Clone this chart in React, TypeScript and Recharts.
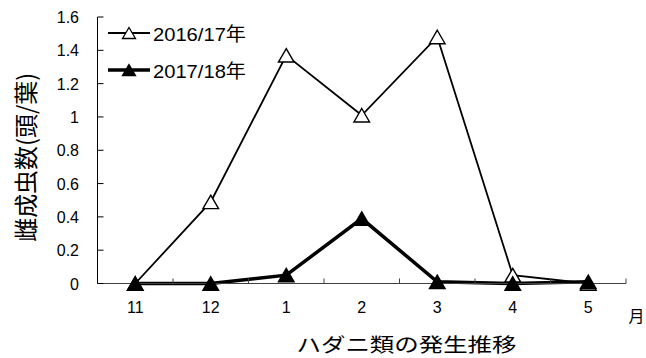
import React from 'react';
import { LineChart, Line, XAxis, YAxis, Legend } from 'recharts';

// Months of the survey season (Nov → May)
const months = ['11', '12', '1', '2', '3', '4', '5'];
// Adult female mites per leaf
const season1617 = [0, 0.49, 1.37, 1.01, 1.48, 0.05, 0];
const season1718 = [0, 0, 0.05, 0.39, 0.01, 0, 0.01];
const yTicks = [0, 0.2, 0.4, 0.6, 0.8, 1, 1.2, 1.4, 1.6];
const seriesNames = ['2016/17年', '2017/18年'];
const yTitle = '雌成虫数(頭/葉)';
const xTitle = 'ハダニ類の発生推移';
const xUnit = '月';

const W = 646;
const H = 358;

const LATIN = '"Liberation Sans", Arial, "Noto Sans CJK JP", sans-serif';
const CJK = '"Noto Sans CJK JP", "Liberation Sans", sans-serif';

// each month sits in the middle of its own band; band edges get tick marks
const data = months.map((m, i) => ({
  pos: i + 0.5,
  month: m,
  s1: season1617[i],
  s2: season1718[i],
}));
const xTicks: number[] = [];
for (let i = 0; i <= months.length; i++) {
  xTicks.push(i);
  if (i < months.length) xTicks.push(i + 0.5);
}

const Tri = ({ cx, cy, filled, w = 7.8, h = 13.5, sw = 1.4 }: any) => (
  <path
    d={`M${cx},${cy - h / 2}L${cx + w},${cy + h / 2}L${cx - w},${cy + h / 2}Z`}
    fill={filled ? '#000' : '#fff'}
    stroke="#000"
    strokeWidth={sw}
  />
);

const XTick = (props: any) => {
  const { x, y, payload } = props;
  const v = payload.value;
  if (Number.isInteger(v)) {
    if (v === 0) return <g />;
    return <line x1={x} y1={y} x2={x} y2={y - 5} stroke="#404040" strokeWidth={1} />;
  }
  const label = months[Math.floor(v)];
  return (
    <text x={x} y={y + 24} textAnchor="middle" dominantBaseline="central" fontSize={16} fontFamily={LATIN} fill="#000">
      {label}
    </text>
  );
};

const YTick = (props: any) => {
  const { x, y, payload } = props;
  return (
    <g>
      <line x1={x} y1={y} x2={x + 6} y2={y} stroke="#000" strokeWidth={1} />
      <text x={x - 18.5} y={y + 0.5} textAnchor="end" dominantBaseline="central" fontSize={16} fontFamily={LATIN} fill="#000">
        {String(payload.value)}
      </text>
    </g>
  );
};

const YTitle = (props: any) => {
  const vb = props.viewBox;
  const cx = vb.x - 13.5;
  const cy = vb.y + vb.height / 2 + 7;
  return (
    <text
      x={cx}
      y={cy}
      transform={`rotate(-90 ${cx} ${cy})`}
      textAnchor="middle"
      dominantBaseline="central"
      fontSize={24}
      fontFamily={CJK}
      textLength={169}
      lengthAdjust="spacingAndGlyphs"
      fill="#000"
    >
      {yTitle}
    </text>
  );
};

const XTitle = (props: any) => {
  const vb = props.viewBox;
  return (
    <g>
      <text
        x={vb.x + 309}
        y={vb.y + 59.5}
        textAnchor="middle"
        dominantBaseline="central"
        fontSize={19.5}
        fontFamily={CJK}
        textLength={220}
        lengthAdjust="spacingAndGlyphs"
        fill="#000"
      >
        {xTitle}
      </text>
      <text
        x={vb.x + vb.width + 10.5}
        y={vb.y + 31}
        textAnchor="middle"
        dominantBaseline="central"
        fontSize={16}
        fontFamily={CJK}
        fill="#000"
      >
        {xUnit}
      </text>
    </g>
  );
};

const legendRows = [
  { name: seriesNames[0], filled: false, width: 1.8 },
  { name: seriesNames[1], filled: true, width: 3.5 },
];

const LegendBox = () => (
  <svg width={170} height={75} style={{ display: 'block' }}>
    {legendRows.map((r, i) => {
      const cy = 15 + i * 37;
      return (
        <g key={r.name}>
          <line x1={8} y1={cy} x2={50} y2={cy} stroke="#000" strokeWidth={r.width} />
          <Tri cx={29} cy={cy} filled={r.filled} w={6.5} h={11} sw={1.3} />
          <text
            x={53}
            y={cy + 1.5}
            dominantBaseline="central"
            fontSize={19}
            fontFamily={LATIN}
            textLength={93}
            lengthAdjust="spacingAndGlyphs"
            fill="#000"
          >
            {r.name}
          </text>
        </g>
      );
    })}
  </svg>
);

export default function App() {
  return (
    <div style={{ position: 'absolute', left: 0, top: 0, width: W, height: H, background: '#fff' }}>
      <LineChart
        width={W}
        height={H}
        data={data}
        margin={{ top: 17, right: 20, left: 37.5, bottom: 44.5 }}
      >
        <XAxis
          type="number"
          dataKey="pos"
          domain={[0, months.length]}
          ticks={xTicks}
          interval={0}
          tickLine={false}
          tickSize={0}
          tickMargin={0}
          height={30}
          axisLine={{ stroke: '#404040', strokeWidth: 1 }}
          tick={(p: any) => <XTick {...p} />}
          label={{ content: (p: any) => <XTitle {...p} /> }}
        />
        <YAxis
          type="number"
          domain={[0, 1.6]}
          ticks={yTicks}
          interval={0}
          tickLine={false}
          tickSize={0}
          tickMargin={0}
          width={60}
          axisLine={{ stroke: '#000', strokeWidth: 1 }}
          tick={(p: any) => <YTick {...p} />}
          label={{ content: (p: any) => <YTitle {...p} /> }}
        />
        <Legend
          layout="horizontal"
          align="center"
          verticalAlign="middle"
          content={() => <LegendBox />}
          wrapperStyle={{ position: 'absolute', left: 100, top: 18, width: 170, height: 75 }}
        />
        <Line
          dataKey="s1"
          name={seriesNames[0]}
          type="linear"
          stroke="#000"
          strokeWidth={1.8}
          isAnimationActive={false}
          dot={(p: any) => <Tri key={`a${p.index}`} cx={p.cx} cy={p.cy} filled={false} />}
          activeDot={false}
        />
        <Line
          dataKey="s2"
          name={seriesNames[1]}
          type="linear"
          stroke="#000"
          strokeWidth={3.5}
          isAnimationActive={false}
          dot={(p: any) => <Tri key={`b${p.index}`} cx={p.cx} cy={p.cy} filled />}
          activeDot={false}
        />
      </LineChart>
    </div>
  );
}
